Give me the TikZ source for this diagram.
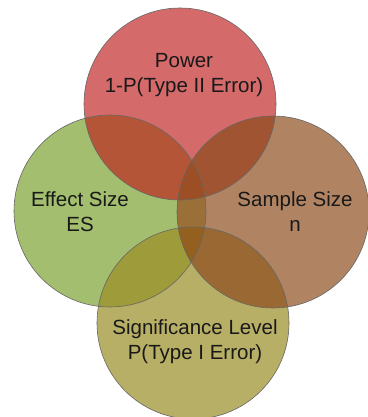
\documentclass[tikz,border=0pt]{standalone}
\usepackage{fontspec}
\setmainfont{Liberation Sans}
\definecolor{pwfill}{HTML}{D46A6A}
\definecolor{esfill}{HTML}{A2BE6E}
\definecolor{ssfill}{HTML}{B08462}
\definecolor{slfill}{HTML}{B8AF66}
\definecolor{pwes}{HTML}{B55538}
\definecolor{pwss}{HTML}{A05432}
\definecolor{essl}{HTML}{9E9B3A}
\definecolor{sssl}{HTML}{9A6833}
\definecolor{esss}{HTML}{9A7038}
\definecolor{pwesss}{HTML}{9C4E25}
\definecolor{essssl}{HTML}{93601F}
\begin{document}
\begin{tikzpicture}[x=1pt, y=-1pt,
    ring/.style={draw=black!60, line width=0.6pt},
    txt/.style={align=center, font=\fontsize{20.5}{25}\selectfont, text=black!90}
]
\useasboundingbox (0,0) rectangle (367,417);

% Circle centres
\coordinate (pw) at (180,104);
\coordinate (es) at (110,211);
\coordinate (ss) at (273,212);
\coordinate (sl) at (193,323);
\def\ringr{96}

% Single circles
\fill[pwfill] (pw) circle (\ringr);
\fill[esfill] (es) circle (\ringr);
\fill[ssfill] (ss) circle (\ringr);
\fill[slfill] (sl) circle (\ringr);

% Pairwise overlaps
\begin{scope}
  \clip (pw) circle (\ringr);
  \fill[pwes] (es) circle (\ringr);
  \fill[pwss] (ss) circle (\ringr);
\end{scope}
\begin{scope}
  \clip (sl) circle (\ringr);
  \fill[essl] (es) circle (\ringr);
  \fill[sssl] (ss) circle (\ringr);
\end{scope}
\begin{scope}
  \clip (es) circle (\ringr);
  \fill[esss] (ss) circle (\ringr);
\end{scope}

% Triple overlaps
\begin{scope}
  \clip (es) circle (\ringr);
  \clip (ss) circle (\ringr);
  \fill[pwesss] (pw) circle (\ringr);
  \fill[essssl] (sl) circle (\ringr);
\end{scope}

% Outlines
\draw[ring] (pw) circle (\ringr);
\draw[ring] (es) circle (\ringr);
\draw[ring] (ss) circle (\ringr);
\draw[ring] (sl) circle (\ringr);

% Labels
\node[txt] (power) at (184,75) {Power\\1-P(Type II Error)};
\node[txt] (effect) at (80,212) {Effect Size\\ES};
\node[txt] (sample) at (295,212) {Sample Size\\n};
\node[txt] (signif) at (195,342) {Significance Level\\P(Type I Error)};

\end{tikzpicture}
\end{document}
